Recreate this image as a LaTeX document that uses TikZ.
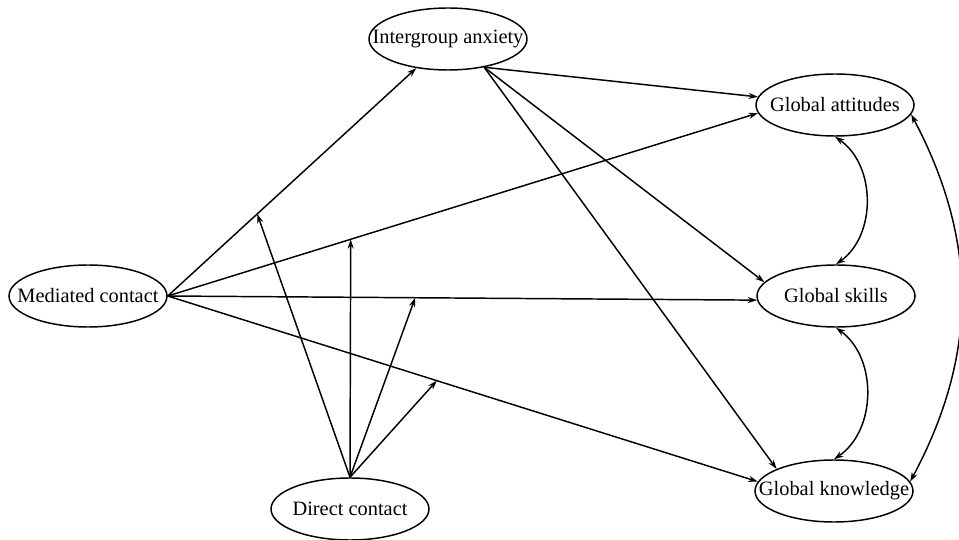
\documentclass[tikz,border=0pt]{standalone}
\usepackage{fontspec}
\setmainfont{Liberation Serif}
\usetikzlibrary{arrows.meta, shapes.geometric}

\newcommand{\varname}[1]{\makebox[0pt]{#1}}

\begin{document}
\begin{tikzpicture}[x=0.75pt, y=0.75pt, >={Stealth[length=7pt,width=4.6pt]},
    construct/.style={ellipse, draw, line width=1.1pt, minimum width=118.5pt,
        minimum height=46.5pt, inner sep=0pt, font=\fontsize{15.3}{18}\selectfont},
    link/.style={->, line width=1.1pt}]
    \useasboundingbox (0,0) rectangle (959,539);
    % variables
    \node[construct] (IA) at (448,500) {\varname{Intergroup anxiety}};
    \node[construct] (MC) at (88,243) {\varname{Mediated contact}};
    \node[construct] (DC) at (350,30) {\varname{Direct contact}};
    \node[construct] (GA) at (835,434) {\varname{Global attitudes}};
    \node[construct] (GS) at (836,243) {\varname{Global skills}};
    \node[construct] (GK) at (834,48) {\varname{Global knowledge}};
    % paths from mediated contact
    \draw[link] (MC.east) -- coordinate[pos=0.36] (ia1) (IA);
    \draw[link] (MC.east) -- coordinate[pos=0.31] (ga1) (GA.186);
    \draw[link] (MC.east) -- coordinate[pos=0.42] (gs1) (GS.183);
    \draw[link] (MC.east) -- coordinate[pos=0.456] (gk1) (GK.173);
    % paths from intergroup anxiety
    \draw[link] (IA.-38) -- (GA.174);
    \draw[link] (IA.-38) -- (GS.169);
    \draw[link] (IA.-38) -- (GK.159);
    % moderation by direct contact
    \foreach \m in {ia1, ga1, gs1, gk1}
        \draw[link] (DC.north) -- (\m);
    % covariances
    \draw[link, <->] (GA.south) to[bend left=55] (GS.north);
    \draw[link, <->] (GS.south) to[bend left=55] (GK.north);
    \draw[link, <->] (GA.-7) to[bend left=28] (GK.7);
\end{tikzpicture}
\end{document}
